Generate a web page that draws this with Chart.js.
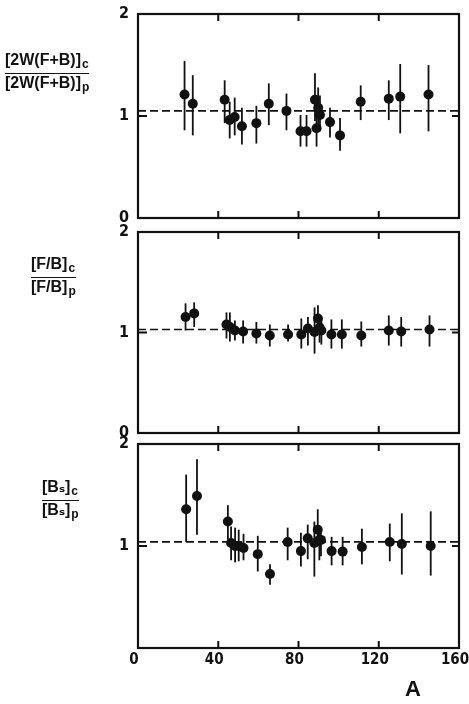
<!DOCTYPE html>
<html>
<head>
<meta charset="utf-8">
<script src="https://cdn.jsdelivr.net/npm/chart.js@4.4.0/dist/chart.umd.min.js"></script>
<style>
  html, body { margin:0; padding:0; background:#fff; }
  body { width:469px; height:704px; position:relative; overflow:hidden; }
  .wrap { position:absolute; left:0; width:469px; }
  .wrap canvas { display:block; }
  .frac { position:absolute; display:inline-block; text-align:left;
          font-family:'Liberation Sans','DejaVu Sans',Arial,sans-serif; font-weight:bold; font-size:16px; color:#111; }
  .frac .num { line-height:15px; padding-bottom:1px; }
  .frac .den { line-height:15px; border-top:1.6px solid #111; padding-top:1px; }
  .frac sub { font-size:12px; vertical-align:-3px; margin-left:1px; }
  #xt { position:absolute; left:405px; top:676px; font-family:'Liberation Sans',Arial,sans-serif; font-weight:bold; font-size:22px; color:#111; }
</style>
</head>
<body>
<div class="wrap" style="top:0px; height:226px"><canvas id="c1" width="469" height="226" style="width:469px;height:226px"></canvas></div>
<div class="wrap" style="top:218px; height:222px"><canvas id="c2" width="469" height="222" style="width:469px;height:222px"></canvas></div>
<div class="wrap" style="top:430px; height:274px"><canvas id="c3" width="469" height="274" style="width:469px;height:274px"></canvas></div>

<div class="frac" style="left:5px; top:52px"><div class="num">[2W(F+B)]<sub>c</sub></div><div class="den">[2W(F+B)]<sub>p</sub></div></div>
<div class="frac" style="left:31px; top:256px"><div class="num">[F/B]<sub>c</sub></div><div class="den">[F/B]<sub>p</sub></div></div>
<div class="frac" style="left:42px; top:479px"><div class="num">[Bₛ]<sub>c</sub></div><div class="den">[Bₛ]<sub>p</sub></div></div>
<div id="xt">A</div>

<script>
// ---- axis ticks ----
const xTickValues = [0, 40, 80, 120, 160];
const yTickValues = [0, 1, 2];

// ---- panel 1: [2W(F+B)]c / [2W(F+B)]p ----
const p1A   = [23.2, 27.3, 43.2, 45.7, 48.2, 51.8, 59.0, 65.2, 74.0, 81.0, 84.0, 88.2, 89.0, 89.8, 90.7, 95.7, 100.7, 111.0, 125.0, 130.7, 144.8];
const p1Val = [1.21, 1.12, 1.16, 0.96, 0.99, 0.90, 0.93, 1.12, 1.05, 0.85, 0.85, 1.16, 0.88, 1.08, 1.01, 0.94, 0.81, 1.14, 1.17, 1.19, 1.21];
const p1Hi  = [1.54, 1.40, 1.35, 1.14, 1.18, 1.08, 1.10, 1.32, 1.22, 1.01, 1.01, 1.42, 1.05, 1.28, 1.20, 1.08, 0.98, 1.30, 1.35, 1.51, 1.50];
const p1Lo  = [0.86, 0.81, 0.93, 0.78, 0.81, 0.72, 0.73, 0.91, 0.86, 0.70, 0.70, 0.95, 0.70, 0.88, 0.85, 0.79, 0.66, 0.96, 0.96, 0.83, 0.85];
const p1Ref = 1.05;

// ---- panel 2: [F/B]c / [F/B]p ----
const p2A   = [23.7, 28.0, 44.1, 45.8, 48.3, 52.4, 59.0, 65.7, 74.8, 81.4, 84.7, 88.0, 89.7, 90.5, 91.4, 96.4, 101.6, 111.3, 125.0, 131.2, 145.3];
const p2Val = [1.155, 1.19, 1.08, 1.055, 1.02, 1.01, 0.99, 0.97, 0.98, 0.98, 1.04, 1.005, 1.14, 1.05, 1.02, 0.98, 0.98, 0.97, 1.02, 1.01, 1.03];
const p2Hi  = [1.29, 1.30, 1.20, 1.20, 1.12, 1.12, 1.105, 1.08, 1.08, 1.14, 1.155, 1.25, 1.27, 1.15, 1.12, 1.13, 1.13, 1.11, 1.17, 1.155, 1.17];
const p2Lo  = [1.02, 1.055, 0.94, 0.91, 0.92, 0.89, 0.89, 0.86, 0.91, 0.84, 0.87, 0.79, 1.00, 0.90, 0.88, 0.84, 0.84, 0.86, 0.87, 0.86, 0.86];
const p2Ref = 1.03;

// ---- panel 3: [Bs]c / [Bs]p ----
const p3A   = [24.0, 29.4, 44.8, 46.4, 48.4, 50.2, 52.6, 59.7, 65.8, 74.6, 81.2, 84.6, 87.9, 89.6, 90.4, 91.2, 96.5, 102.0, 111.6, 125.5, 131.5, 145.9];
const p3Val = [1.36, 1.49, 1.24, 1.03, 1.00, 1.00, 0.98, 0.92, 0.725, 1.04, 0.95, 1.075, 1.03, 1.16, 1.06, 1.06, 0.95, 0.945, 0.99, 1.04, 1.02, 1.00];
const p3Hi  = [1.70, 1.85, 1.40, 1.19, 1.18, 1.16, 1.12, 1.10, 0.82, 1.18, 1.13, 1.21, 1.24, 1.36, 1.20, 1.18, 1.09, 1.09, 1.17, 1.22, 1.32, 1.34];
const p3Lo  = [1.04, 1.11, 1.06, 0.86, 0.84, 0.85, 0.86, 0.75, 0.62, 0.86, 0.80, 0.87, 0.70, 1.00, 0.86, 0.90, 0.81, 0.81, 0.82, 0.85, 0.72, 0.71];
const p3Ref = 1.04;

const INK = '#111';
const tickFont = { family: "'Liberation Sans Narrow','DejaVu Sans Condensed','Liberation Sans',Arial,sans-serif", weight: 'bold', size: 15 };

const framePlugin = {
  id: 'frameAndErrors',
  beforeDatasetsDraw(chart) {
    const ctx = chart.ctx, xs = chart.scales.x, ys = chart.scales.y;
    const ds = chart.data.datasets[0];
    ctx.save();
    ctx.strokeStyle = INK;
    ctx.lineWidth = 1.8;
    ds.data.forEach((p, i) => {
      const px = xs.getPixelForValue(p.x);
      ctx.beginPath();
      ctx.moveTo(px, ys.getPixelForValue(ds.errHi[i]));
      ctx.lineTo(px, ys.getPixelForValue(ds.errLo[i]));
      ctx.stroke();
    });
    ctx.restore();
  },
  afterDraw(chart) {
    const ctx = chart.ctx, a = chart.chartArea, xs = chart.scales.x, ys = chart.scales.y;
    ctx.save();
    ctx.strokeStyle = INK;
    ctx.lineWidth = 2.2;
    ctx.strokeRect(a.left, a.top, a.right - a.left, a.bottom - a.top);
    const L = 7;
    ctx.lineWidth = 2;
    xTickValues.slice(1, -1).forEach(v => {
      const px = xs.getPixelForValue(v);
      ctx.beginPath();
      ctx.moveTo(px, a.top); ctx.lineTo(px, a.top + L);
      ctx.moveTo(px, a.bottom); ctx.lineTo(px, a.bottom - L);
      ctx.stroke();
    });
    yTickValues.slice(1, -1).forEach(v => {
      const py = ys.getPixelForValue(v);
      ctx.beginPath();
      ctx.moveTo(a.left, py); ctx.lineTo(a.left + L + 2, py);
      ctx.moveTo(a.right, py); ctx.lineTo(a.right - L, py);
      ctx.stroke();
    });
    ctx.restore();
  }
};

function makePanel(id, A, V, Hi, Lo, ref, pad, showX) {
  new Chart(document.getElementById(id), {
    type: 'scatter',
    data: {
      datasets: [
        {
          data: A.map((a, i) => ({ x: a, y: V[i] })),
          errHi: Hi, errLo: Lo,
          backgroundColor: INK, borderColor: INK, pointRadius: 5, borderWidth: 0
        },
        {
          type: 'line',
          data: [{ x: xTickValues[0], y: ref }, { x: xTickValues[xTickValues.length - 1], y: ref }],
          borderColor: INK, borderWidth: 1.7, borderDash: [8, 4],
          pointRadius: 0, fill: false
        }
      ]
    },
    options: {
      responsive: false,
      maintainAspectRatio: false,
      animation: false,
      events: [],
      layout: { padding: { top: pad.top, bottom: pad.bottom, left: 0, right: 10 } },
      plugins: { legend: { display: false }, tooltip: { enabled: false } },
      scales: {
        x: {
          type: 'linear', min: 0, max: 160,
          display: showX,
          afterBuildTicks: s => { s.ticks = xTickValues.map(v => ({ value: v })); },
          ticks: { color: INK, font: tickFont, padding: 3, maxRotation: 0, labelOffset: -4 },
          grid: { display: false, drawTicks: false },
          border: { display: false },
          afterFit: s => { if (showX) s.height = 56; s.paddingLeft = 0; s.paddingRight = 0; }
        },
        y: {
          min: 0, max: 2,
          afterBuildTicks: s => { s.ticks = yTickValues.map(v => ({ value: v })); },
          ticks: {
            color: INK, font: { ...tickFont, size: 16 }, padding: 9,
            callback: v => (showX && v === 0) ? '' : String(v)
          },
          grid: { display: false, drawTicks: false },
          border: { display: false },
          afterFit: s => { s.width = 138; s.paddingTop = 0; s.paddingBottom = 0; }
        }
      }
    },
    plugins: [framePlugin]
  });
}

makePanel('c1', p1A, p1Val, p1Hi, p1Lo, p1Ref, { top: 14, bottom: 8 }, false);
makePanel('c2', p2A, p2Val, p2Hi, p2Lo, p2Ref, { top: 14, bottom: 7 }, false);
makePanel('c3', p3A, p3Val, p3Hi, p3Lo, p3Ref, { top: 14, bottom: 0 }, true);
</script>
</body>
</html>
